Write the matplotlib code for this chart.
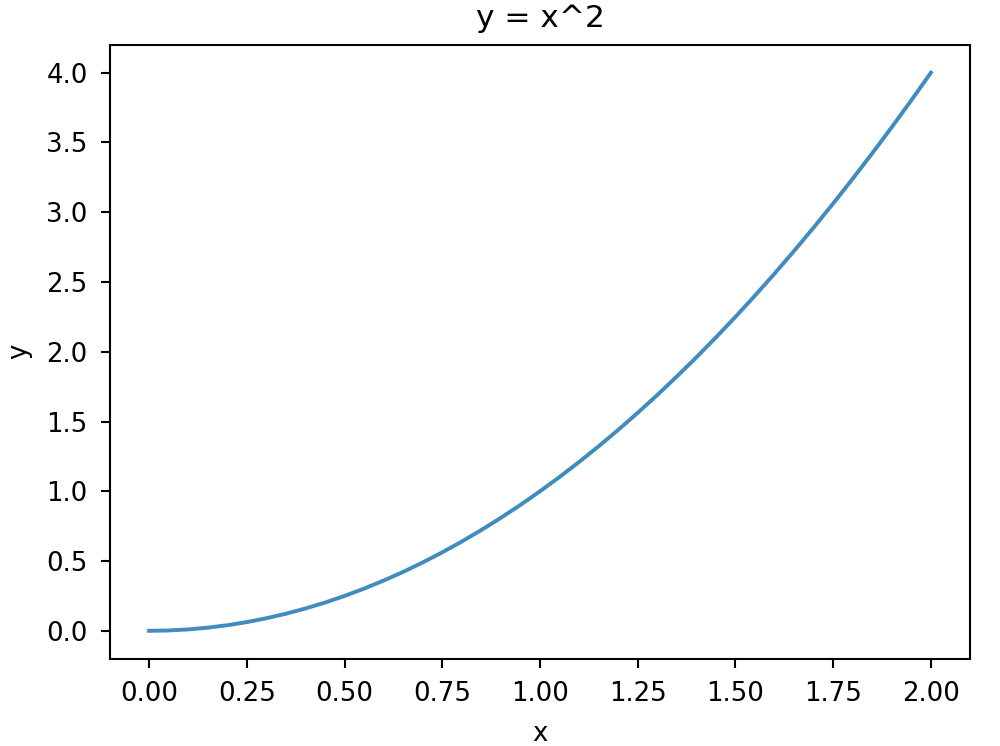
import matplotlib
matplotlib.use("Agg")
import matplotlib.pyplot as plt

# nilai
x_vals = [0.0, 0.05, 0.1, 0.15, 0.2, 0.25, 0.3, 0.35, 0.4, 0.45, 0.5,
          0.55, 0.6, 0.65, 0.7, 0.75, 0.8, 0.85, 0.9, 0.95, 1.0,
          1.05, 1.1, 1.15, 1.2, 1.25, 1.3, 1.35, 1.4, 1.45, 1.5,
          1.55, 1.6, 1.65, 1.7, 1.75, 1.8, 1.85, 1.9, 1.95, 2.0]
y_vals = [0.0, 0.0025, 0.01, 0.0225, 0.04, 0.0625, 0.09, 0.1225, 0.16, 0.2025, 0.25,
          0.3025, 0.36, 0.4225, 0.49, 0.5625, 0.64, 0.7225, 0.81, 0.9025, 1.0,
          1.1025, 1.21, 1.3225, 1.44, 1.5625, 1.69, 1.8225, 1.96, 2.1025, 2.25,
          2.4025, 2.56, 2.7225, 2.89, 3.0625, 3.24, 3.4225, 3.61, 3.8025, 4.0]
x_ticks = [0.0, 0.25, 0.5, 0.75, 1.0, 1.25, 1.5, 1.75, 2.0]

DPI = 187.5
fig = plt.figure(figsize=(1000 / DPI, 746 / DPI), dpi=DPI)
ax = fig.add_subplot(111)
ax.plot(x_vals, y_vals, color="#1f77b4", alpha=0.85, linewidth=1.5)
ax.set_title("y = x^2", pad=7)
ax.set_xlabel("x", labelpad=5.5)
ax.set_ylabel("y", labelpad=5.5)
ax.set_xticks(x_ticks)
ax.tick_params(pad=5)
fig.subplots_adjust(left=0.11, right=0.97, top=0.94, bottom=0.117)
fig.savefig("out.png", dpi=DPI)
